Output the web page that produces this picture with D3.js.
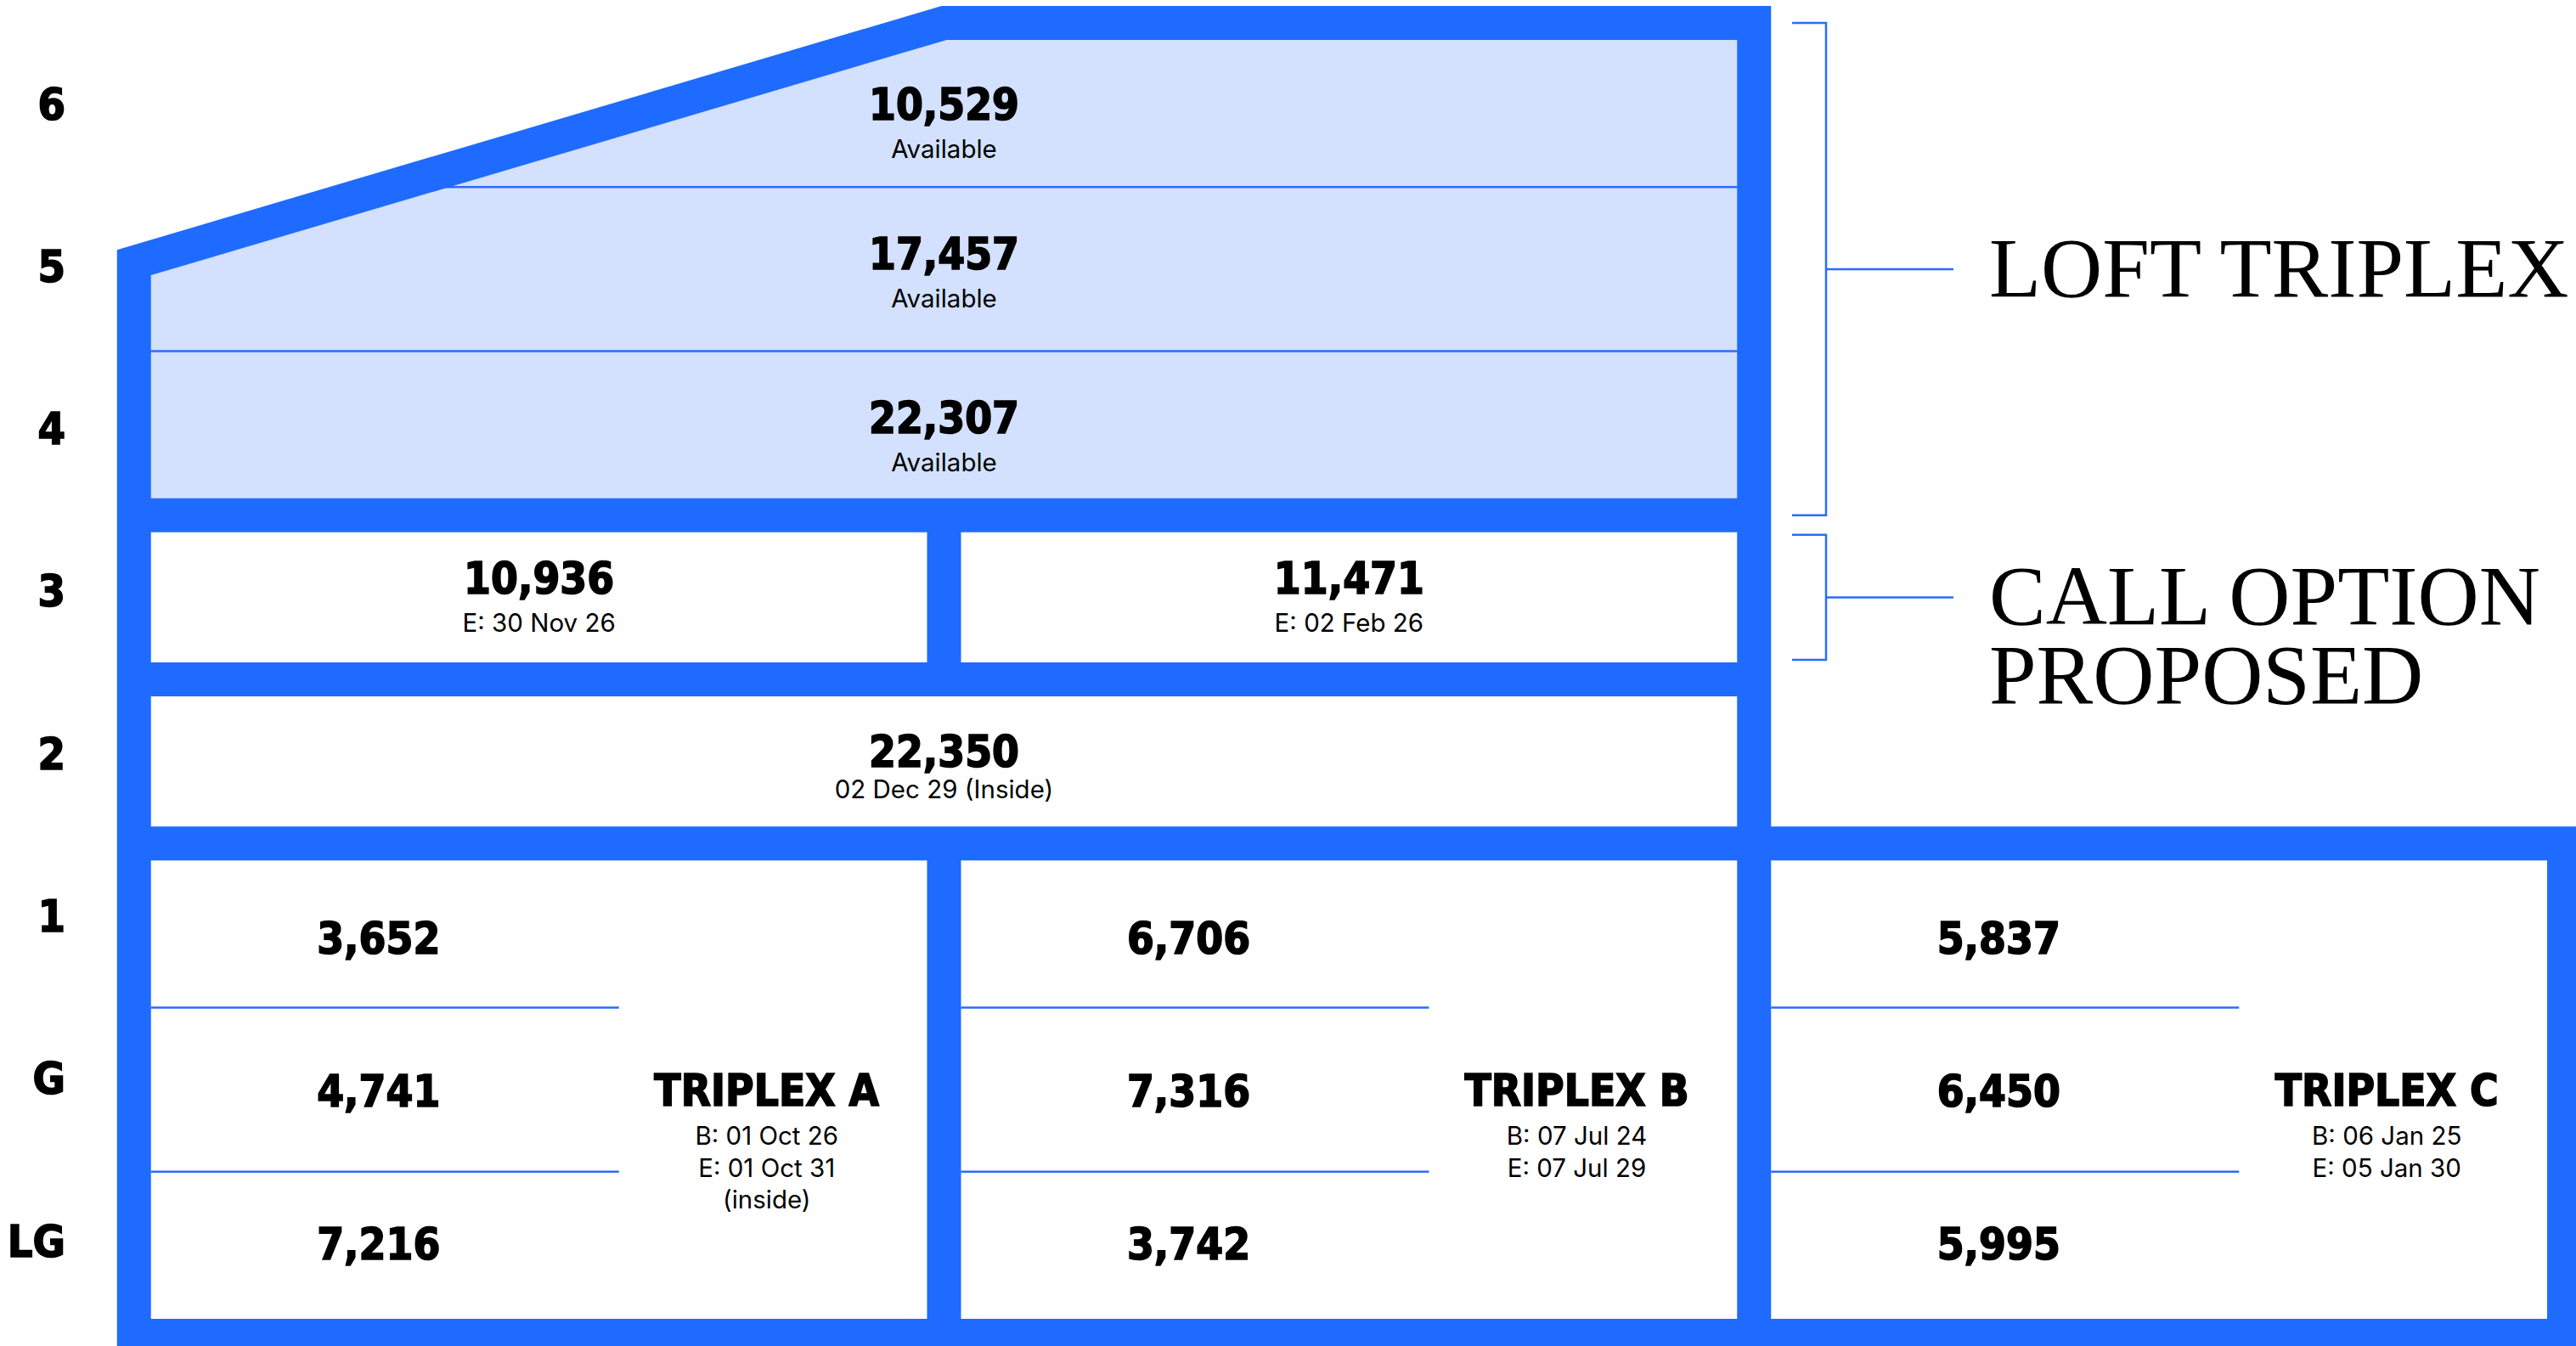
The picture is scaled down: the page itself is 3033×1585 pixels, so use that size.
<!DOCTYPE html>
<html>
<head>
<meta charset="utf-8">
<script src="https://cdn.jsdelivr.net/npm/d3@7"></script>
<style>
  html, body { margin: 0; padding: 0; background: #fff; }
  svg { display: block; }
  .bold { font-family: "DejaVu Sans Condensed", "DejaVu Sans", sans-serif; font-weight: bold; font-stretch: condensed; fill: #000; stroke: #000; stroke-width: 1.6px; }
  .sub { font-family: Inter, "Noto Sans", sans-serif; font-size: 29.5px; fill: #000; }
  .serif { font-family: "Liberation Serif", serif; font-size: 100px; fill: #000; }
</style>
</head>
<body>
<svg id="plan"></svg>
<script>
const floors = ["6", "5", "4", "3", "2", "1", "G", "LG"]
const columns = ["A", "B", "C"]

// loft triplex, floors 6 - 4
const availFloors = ["6", "5", "4"]
const availValues = [10529, 17457, 22307]
const availLabel = "Available"

// floor 3, two suites
const callValues = [10936, 11471]
const callDates = ["E: 30 Nov 26", "E: 02 Feb 26"]

// floor 2
const floor2Value = 22350
const floor2Date = "02 Dec 29 (Inside)"

// triplexes on 1 / G / LG
const triplexFloors = ["1", "G", "LG"]
const triplexNames = ["TRIPLEX A", "TRIPLEX B", "TRIPLEX C"]
const triplexValues = [
    [3652, 4741, 7216],
    [6706, 7316, 3742],
    [5837, 6450, 5995]
]
const triplexDates = [
    ["B: 01 Oct 26", "E: 01 Oct 31", "(inside)"],
    ["B: 07 Jul 24", "E: 07 Jul 29"],
    ["B: 06 Jan 25", "E: 05 Jan 30"]
]

// brackets on the right
const bracketLabels = [["LOFT TRIPLEX"], ["CALL OPTION", "PROPOSED"]]
const bracketFrom = ["6", "3"]
const bracketTo = ["4", "3"]


const width = 3033
const height = 1585
const blue = "#1f6bff"
const darkBlue = "#185dff"
const lightFill = "#d3e0fe"
const lineBlue = "#2b6cff"
const wall = 40

const y = d3.scaleBand().domain(floors).range([27, 1573])
const x = d3.scaleBand().domain(columns).range([157.75, 3019])
const labelY = d3.scalePoint().domain(floors).range([140.5, 1479.5])
const fmt = d3.format(",")

const bw = y.bandwidth()
const cw = x.bandwidth()
const bot = f => y(f) + bw
const x0 = x("A"), x1 = x("B"), x2 = x("C"), x3 = x("C") + cw
const roofTop = y("6")
const roofY = y("5") + bw * 0.46

const svg = d3.select("#plan")
    .attr("width", width)
    .attr("height", height)

const line = d3.line()

// loft area (floors 6-4) under the roof
const loftPts = [[x0, bot("4")], [x0, roofY], [x1, roofTop], [x2, roofTop], [x2, bot("4")]]

svg.append("clipPath").attr("id", "loftClip")
    .append("path").attr("d", line(loftPts) + "Z")

svg.append("path")
    .attr("d", line(loftPts) + "Z")
    .attr("fill", lightFill)

const loftG = svg.append("g").attr("clip-path", "url(#loftClip)")

loftG.selectAll("line")
    .data(availFloors.slice(1))
    .join("line")
    .attr("x1", x0).attr("x2", x2)
    .attr("y1", d => y(d)).attr("y2", d => y(d))
    .attr("stroke", lineBlue)
    .attr("stroke-width", 2.5)

// thin lines inside the triplexes
const tripG = svg.append("g")
columns.forEach(c => {
    tripG.selectAll(null)
        .data(triplexFloors.slice(1))
        .join("line")
        .attr("x1", x(c) + wall / 2).attr("x2", x(c) + wall / 2 + 551)
        .attr("y1", d => y(d)).attr("y2", d => y(d))
        .attr("stroke", lineBlue)
        .attr("stroke-width", 2.5)
})

// outer frame of the building
svg.append("path")
    .attr("d", line([[x0, bot("LG")], [x0, roofY], [x1, roofTop], [x2, roofTop], [x2, y("1")], [x3, y("1")], [x3, bot("LG")]]) + "Z")
    .attr("fill", "none")
    .attr("stroke", blue)
    .attr("stroke-width", wall)
    .attr("stroke-linejoin", "miter")
    .attr("stroke-miterlimit", 10)

// darker inner edge of the loft frame
loftG.append("path")
    .attr("d", line([[x0, bot("4")], [x0, roofY], [x1, roofTop], [x2 - wall / 2, roofTop]]))
    .attr("fill", "none")
    .attr("stroke", darkBlue)
    .attr("stroke-width", 30)
    .attr("stroke-linejoin", "miter")

// slabs between the floor groups
svg.selectAll(".slab")
    .data(["3", "2", "1"])
    .join("line")
    .attr("class", "slab")
    .attr("x1", x0).attr("x2", x2)
    .attr("y1", d => y(d)).attr("y2", d => y(d))
    .attr("stroke", blue)
    .attr("stroke-width", wall)

// vertical walls
const walls = [
    [x1, y("3"), bot("3")],
    [x1, y("1"), bot("LG")],
    [x2, y("1"), bot("LG")]
]
svg.selectAll(".wall")
    .data(walls)
    .join("line")
    .attr("class", "wall")
    .attr("x1", d => d[0]).attr("x2", d => d[0])
    .attr("y1", d => d[1]).attr("y2", d => d[2])
    .attr("stroke", blue)
    .attr("stroke-width", wall)

// floor labels
svg.selectAll(".floorLabel")
    .data(floors)
    .join("text")
    .attr("class", "bold")
    .attr("x", 77)
    .attr("y", d => labelY(d))
    .attr("text-anchor", "end")
    .style("font-size", "52px")
    .text(d => d)

// loft values
const midX = (x0 + x2) / 2
availFloors.forEach((f, i) => {
    const by = y(f) + bw / 2 + (i === 0 ? 17 : 0)
    svg.append("text").attr("class", "bold")
        .attr("x", midX).attr("y", by)
        .attr("text-anchor", "middle")
        .style("font-size", "51px")
        .text(fmt(availValues[i]))
    svg.append("text").attr("class", "sub")
        .attr("x", midX).attr("y", by + 45)
        .attr("text-anchor", "middle")
        .text(availLabel)
})

// floor 3
callValues.forEach((v, i) => {
    const cx = x(columns[i]) + cw / 2
    const by = y("3") + bw / 2 - 4
    svg.append("text").attr("class", "bold")
        .attr("x", cx).attr("y", by)
        .attr("text-anchor", "middle")
        .style("font-size", "51px")
        .text(fmt(v))
    svg.append("text").attr("class", "sub")
        .attr("x", cx).attr("y", by + 45)
        .attr("text-anchor", "middle")
        .text(callDates[i])
})

// floor 2
const f2y = y("2") + bw / 2 + 6
svg.append("text").attr("class", "bold")
    .attr("x", midX).attr("y", f2y)
    .attr("text-anchor", "middle")
    .style("font-size", "51px")
    .text(fmt(floor2Value))
svg.append("text").attr("class", "sub")
    .attr("x", midX).attr("y", f2y + 37.5)
    .attr("text-anchor", "middle")
    .text(floor2Date)

// triplexes
const inner = d3.scaleBand()
    .domain(triplexFloors)
    .range([y("1") + wall / 2, bot("LG") - wall / 2])

columns.forEach((c, ci) => {
    const g = svg.append("g")

    g.selectAll(".val")
        .data(triplexValues[ci])
        .join("text")
        .attr("class", "bold")
        .attr("x", x(c) + 288)
        .attr("y", (d, i) => inner(triplexFloors[i]) + inner.bandwidth() / 2 + 20)
        .attr("text-anchor", "middle")
        .style("font-size", "51px")
        .text(d => fmt(d))

    const ny = inner("G") + inner.bandwidth() / 2 + 19
    g.append("text").attr("class", "bold")
        .attr("x", x(c) + 745).attr("y", ny)
        .attr("text-anchor", "middle")
        .style("font-size", "51px")
        .text(triplexNames[ci])

    g.selectAll(".date")
        .data(triplexDates[ci])
        .join("text")
        .attr("class", "sub")
        .attr("x", x(c) + 745)
        .attr("y", (d, i) => ny + 46 + i * 37.5)
        .attr("text-anchor", "middle")
        .text(d => d)
})

// brackets + serif labels
const bx = 2150
bracketLabels.forEach((lines, i) => {
    const inset = bracketFrom[i] === bracketTo[i] ? 23 : 0
    const t = y(bracketFrom[i]) + inset
    const b = bot(bracketTo[i]) - inset
    const mid = (t + b) / 2

    svg.append("path")
        .attr("d", `M${bx - 40},${t}H${bx}V${b}H${bx - 40}M${bx},${mid}H${bx + 150}`)
        .attr("fill", "none")
        .attr("stroke", lineBlue)
        .attr("stroke-width", 2.5)

    svg.selectAll(null)
        .data(lines)
        .join("text")
        .attr("class", "serif")
        .attr("x", 2342)
        .attr("y", (d, j) => mid + 32 + j * 93)
        .text(d => d)
})
</script>
</body>
</html>
